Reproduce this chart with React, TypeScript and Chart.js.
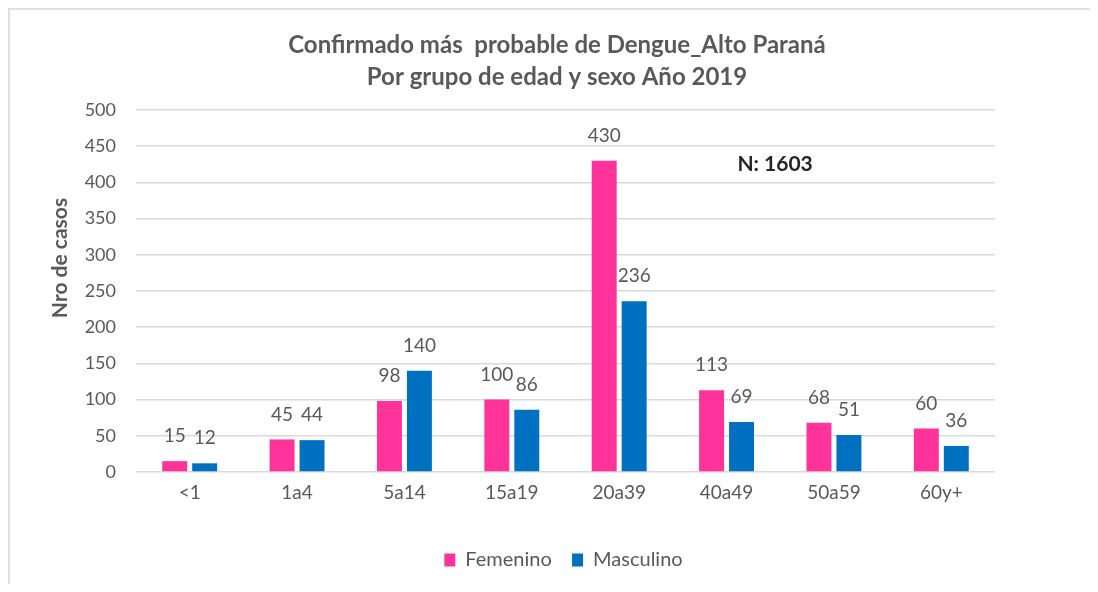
import React, { useEffect, useRef } from "react";
import { Chart, registerables } from "chart.js";

Chart.register(...registerables);

const categories = ["<1", "1a4", "5a14", "15a19", "20a39", "40a49", "50a59", "60y+"];
const femenino = [15, 45, 98, 100, 430, 113, 68, 60];
const masculino = [12, 44, 140, 86, 236, 69, 51, 36];
const seriesNames = ["Femenino", "Masculino"];
const titleLines = ["Confirmado más  probable de Dengue_Alto Paraná", "Por grupo de edad y sexo Año 2019"];
const yAxisTitle = "Nro de casos";
const totalLabel = "N: 1603";

const FONT = "Lato, 'Open Sans', sans-serif";
const GRAY = "#595959";

const framePlugin = {
  id: "frame",
  beforeDraw(chart: any) {
    const ctx = chart.ctx;
    ctx.save();
    ctx.fillStyle = "#E0E0E0";
    ctx.fillRect(0, 0, chart.width, 2);
    ctx.fillRect(0, 0, 2, chart.height);
    ctx.restore();
  },
};

const decorPlugin = {
  id: "decor",
  afterDatasetsDraw(chart: any) {
    const ctx = chart.ctx;
    const area = chart.chartArea;
    ctx.save();
    ctx.font = `19px ${FONT}`;
    ctx.fillStyle = GRAY;
    ctx.textAlign = "center";
    ctx.textBaseline = "middle";
    chart.data.datasets.forEach((ds: any, i: number) => {
      const meta = chart.getDatasetMeta(i);
      meta.data.forEach((bar: any, j: number) => {
        ctx.fillText(String(ds.data[j]), bar.x, bar.y - 25);
      });
    });
    ctx.font = `bold 24px ${FONT}`;
    ctx.fillStyle = GRAY;
    const cx = 549;
    ctx.fillText(titleLines[0], cx, 37);
    ctx.fillText(titleLines[1], cx, 69);
    ctx.save();
    ctx.translate(52, 250);
    ctx.rotate(-Math.PI / 2);
    ctx.font = `bold 21px ${FONT}`;
    ctx.fillText(yAxisTitle, 0, 0);
    ctx.restore();
    ctx.font = `bold 21px ${FONT}`;
    ctx.fillStyle = "#262626";
    ctx.fillText(totalLabel, area.left + (area.right - area.left) * 0.744, area.top + 54);
    ctx.restore();
  },
};

export default function App() {
  const ref = useRef<HTMLCanvasElement>(null);
  useEffect(() => {
    document.body.style.overflow = "hidden";
    if (!ref.current) return;
    const chart = new Chart(ref.current, {
      type: "bar",
      data: {
        labels: categories,
        datasets: [
          {
            label: seriesNames[0],
            data: femenino,
            backgroundColor: "#FF3399",
            categoryPercentage: 0.558,
            barPercentage: 0.833,
          },
          {
            label: seriesNames[1],
            data: masculino,
            backgroundColor: "#0070C0",
            categoryPercentage: 0.558,
            barPercentage: 0.833,
          },
        ],
      },
      options: {
        animation: false,
        responsive: false,
        layout: { padding: { left: 49, right: 28, top: 102, bottom: 4 } },
        plugins: {
          title: { display: false },
          legend: {
            position: "bottom",
            labels: {
              boxWidth: 11,
              boxHeight: 13,
              color: GRAY,
              font: { family: FONT, size: 20 },
              padding: 10,
              generateLabels(chart: any) {
                const items = Chart.defaults.plugins.legend.labels.generateLabels(chart);
                items.forEach((it: any, i: number) => {
                  if (i < items.length - 1) it.text = it.text + "  ";
                });
                return items;
              },
            },
          },
          tooltip: { enabled: false },
        },
        scales: {
          x: {
            grid: { display: false },
            border: { display: false },
            afterFit(scale: any) {
              scale.height = 68;
            },
            ticks: { color: GRAY, font: { family: FONT, size: 19 }, padding: 1 },
          },
          y: {
            min: 0,
            max: 500,
            afterFit(scale: any) {
              scale.width = 79;
            },
            ticks: {
              stepSize: 50,
              color: GRAY,
              font: { family: FONT, size: 18 },
              padding: 20,
            },
            grid: { color: "#D9D9D9", lineWidth: 1.5, drawTicks: false },
            border: { display: false },
          },
          y2: {
            position: "right",
            display: true,
            min: 0,
            max: 500,
            afterFit(scale: any) {
              scale.width = 75;
            },
            ticks: { display: false },
            grid: { display: false },
            border: { display: false },
          },
        },
      },
      plugins: [framePlugin, decorPlugin],
    });
    return () => chart.destroy();
  }, []);
  return (
    <div style={{ width: 1090, height: 576 }}>
      <canvas ref={ref} width={1090} height={576} style={{ display: "block" }} />
    </div>
  );
}
